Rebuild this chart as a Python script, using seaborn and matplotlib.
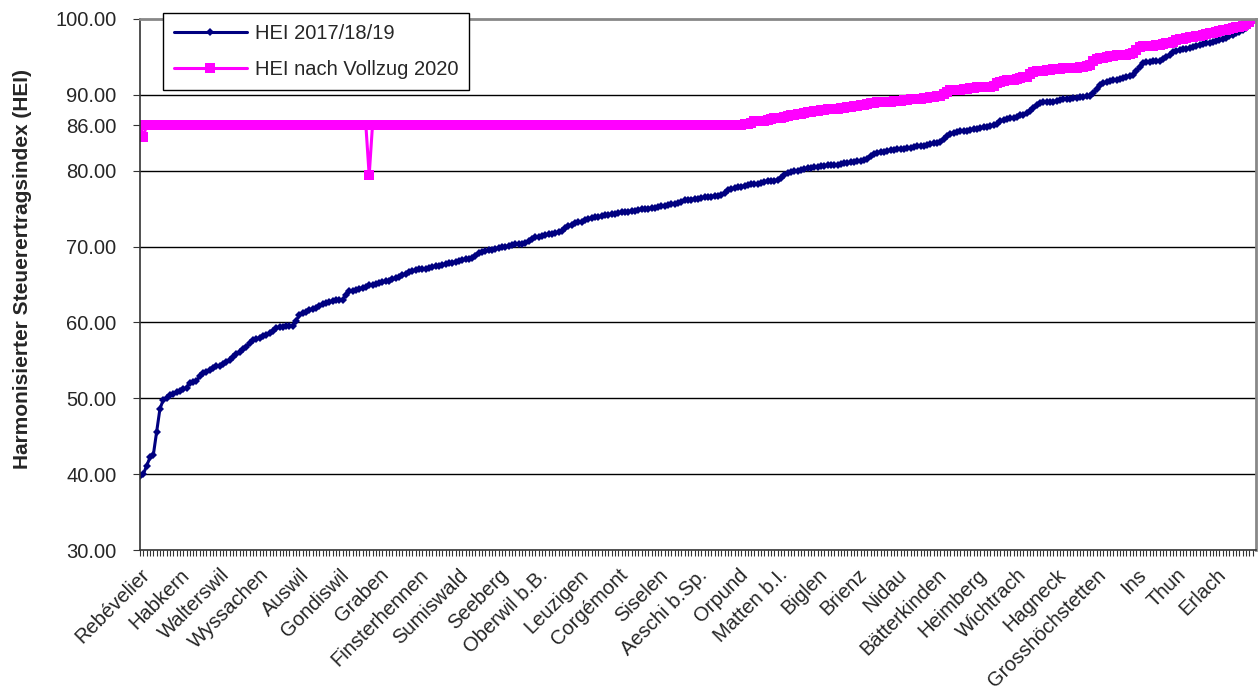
import numpy as np
import pandas as pd
import matplotlib
matplotlib.use("Agg")
import matplotlib.pyplot as plt
import seaborn as sns

# tick labels (every 12th municipality)
labels = ["Rebévelier", "Habkern", "Walterswil", "Wyssachen", "Auswil", "Gondiswil",
          "Graben", "Finsterhennen", "Sumiswald", "Seeberg", "Oberwil b.B.", "Leuzigen",
          "Corgémont", "Siselen", "Aeschi b.Sp.", "Orpund", "Matten b.I.", "Biglen",
          "Brienz", "Nidau", "Bätterkinden", "Heimberg", "Wichtrach", "Hagneck",
          "Grosshöchstetten", "Ins", "Thun", "Erlach"]

hei_2017 = [
    39.7, 40.0, 41.1, 42.2, 42.5, 45.5, 48.6, 49.8, 50.1, 50.4, 50.6, 50.8,
    51.0, 51.2, 51.4, 52.0, 52.1, 52.3, 52.9, 53.3, 53.5, 53.7, 54.0, 54.2,
    54.3, 54.5, 54.8, 55.0, 55.4, 55.8, 56.1, 56.5, 56.8, 57.3, 57.7, 57.8,
    58.0, 58.2, 58.4, 58.6, 58.9, 59.2, 59.4, 59.4, 59.5, 59.5, 59.5, 60.2,
    61.0, 61.2, 61.4, 61.6, 61.8, 61.9, 62.1, 62.4, 62.6, 62.7, 62.8, 62.9,
    62.9, 63.0, 63.6, 64.1, 64.2, 64.3, 64.4, 64.6, 64.7, 64.9, 65.0, 65.1,
    65.2, 65.3, 65.4, 65.5, 65.7, 65.8, 66.0, 66.2, 66.4, 66.6, 66.8, 66.9,
    67.0, 67.0, 67.1, 67.2, 67.3, 67.4, 67.5, 67.6, 67.7, 67.8, 67.9, 68.0,
    68.1, 68.2, 68.3, 68.4, 68.5, 68.8, 69.1, 69.3, 69.4, 69.5, 69.6, 69.7,
    69.8, 69.9, 70.0, 70.1, 70.2, 70.3, 70.3, 70.4, 70.5, 70.7, 71.0, 71.2,
    71.3, 71.4, 71.5, 71.6, 71.7, 71.8, 71.9, 72.1, 72.4, 72.7, 72.9, 73.1,
    73.2, 73.3, 73.5, 73.6, 73.8, 73.9, 73.9, 74.0, 74.1, 74.2, 74.3, 74.3,
    74.4, 74.5, 74.5, 74.6, 74.7, 74.7, 74.8, 74.9, 74.9, 75.0, 75.1, 75.1,
    75.2, 75.3, 75.4, 75.5, 75.6, 75.6, 75.7, 75.9, 76.1, 76.2, 76.2, 76.3,
    76.3, 76.4, 76.5, 76.5, 76.6, 76.7, 76.7, 76.8, 77.1, 77.4, 77.6, 77.7,
    77.8, 77.9, 78.0, 78.1, 78.2, 78.3, 78.3, 78.4, 78.5, 78.6, 78.7, 78.7,
    78.8, 79.1, 79.4, 79.7, 79.8, 79.9, 80.0, 80.1, 80.2, 80.3, 80.4, 80.5,
    80.5, 80.6, 80.6, 80.7, 80.7, 80.8, 80.8, 80.9, 81.0, 81.0, 81.1, 81.2,
    81.3, 81.3, 81.4, 81.6, 81.9, 82.2, 82.4, 82.5, 82.5, 82.6, 82.7, 82.7,
    82.8, 82.8, 82.9, 83.0, 83.0, 83.1, 83.2, 83.3, 83.3, 83.4, 83.5, 83.6,
    83.7, 83.8, 84.2, 84.6, 84.9, 85.0, 85.1, 85.2, 85.2, 85.3, 85.4, 85.5,
    85.5, 85.6, 85.7, 85.8, 85.9, 86.0, 86.2, 86.5, 86.7, 86.8, 86.9, 87.0,
    87.1, 87.3, 87.4, 87.6, 87.9, 88.3, 88.6, 88.9, 89.0, 89.0, 89.1, 89.1,
    89.2, 89.3, 89.4, 89.5, 89.5, 89.6, 89.6, 89.7, 89.7, 89.8, 89.9, 90.3,
    90.8, 91.3, 91.5, 91.7, 91.8, 91.9, 92.0, 92.1, 92.2, 92.4, 92.5, 92.6,
    93.1, 93.7, 94.2, 94.3, 94.3, 94.4, 94.4, 94.4, 94.7, 95.0, 95.3, 95.6,
    95.8, 95.9, 96.0, 96.1, 96.2, 96.3, 96.5, 96.6, 96.7, 96.8, 96.9, 97.0,
    97.1, 97.2, 97.3, 97.5, 97.7, 97.9, 98.1, 98.3, 98.5, 98.8, 99.3, 100.0,
]

hei_2020 = [
    86.0, 84.5, 86.0, 86.0, 86.0, 86.0, 86.0, 86.0, 86.0, 86.0, 86.0, 86.0,
    86.0, 86.0, 86.0, 86.0, 86.0, 86.0, 86.0, 86.0, 86.0, 86.0, 86.0, 86.0,
    86.0, 86.0, 86.0, 86.0, 86.0, 86.0, 86.0, 86.0, 86.0, 86.0, 86.0, 86.0,
    86.0, 86.0, 86.0, 86.0, 86.0, 86.0, 86.0, 86.0, 86.0, 86.0, 86.0, 86.0,
    86.0, 86.0, 86.0, 86.0, 86.0, 86.0, 86.0, 86.0, 86.0, 86.0, 86.0, 86.0,
    86.0, 86.0, 86.0, 86.0, 86.0, 86.0, 86.0, 86.0, 86.0, 79.4, 86.0, 86.0,
    86.0, 86.0, 86.0, 86.0, 86.0, 86.0, 86.0, 86.0, 86.0, 86.0, 86.0, 86.0,
    86.0, 86.0, 86.0, 86.0, 86.0, 86.0, 86.0, 86.0, 86.0, 86.0, 86.0, 86.0,
    86.0, 86.0, 86.0, 86.0, 86.0, 86.0, 86.0, 86.0, 86.0, 86.0, 86.0, 86.0,
    86.0, 86.0, 86.0, 86.0, 86.0, 86.0, 86.0, 86.0, 86.0, 86.0, 86.0, 86.0,
    86.0, 86.0, 86.0, 86.0, 86.0, 86.0, 86.0, 86.0, 86.0, 86.0, 86.0, 86.0,
    86.0, 86.0, 86.0, 86.0, 86.0, 86.0, 86.0, 86.0, 86.0, 86.0, 86.0, 86.0,
    86.0, 86.0, 86.0, 86.0, 86.0, 86.0, 86.0, 86.0, 86.0, 86.0, 86.0, 86.0,
    86.0, 86.0, 86.0, 86.0, 86.0, 86.0, 86.0, 86.0, 86.0, 86.0, 86.0, 86.0,
    86.0, 86.0, 86.0, 86.0, 86.0, 86.0, 86.0, 86.0, 86.0, 86.0, 86.0, 86.0,
    86.0, 86.0, 86.1, 86.2, 86.3, 86.5, 86.5, 86.6, 86.6, 86.7, 86.8, 86.9,
    86.9, 87.0, 87.1, 87.2, 87.3, 87.4, 87.5, 87.5, 87.6, 87.7, 87.8, 87.9,
    87.9, 88.0, 88.0, 88.1, 88.1, 88.2, 88.2, 88.3, 88.3, 88.4, 88.4, 88.5,
    88.5, 88.6, 88.7, 88.8, 88.9, 88.9, 89.0, 89.0, 89.0, 89.1, 89.1, 89.2,
    89.2, 89.2, 89.3, 89.3, 89.4, 89.4, 89.5, 89.5, 89.6, 89.6, 89.7, 89.7,
    89.8, 89.9, 90.1, 90.4, 90.6, 90.6, 90.7, 90.7, 90.8, 90.8, 90.9, 90.9,
    91.0, 91.0, 91.0, 91.1, 91.1, 91.2, 91.5, 91.7, 91.8, 91.9, 92.0, 92.0,
    92.1, 92.2, 92.3, 92.4, 92.7, 93.0, 93.1, 93.2, 93.2, 93.3, 93.3, 93.4,
    93.4, 93.4, 93.5, 93.5, 93.6, 93.6, 93.6, 93.7, 93.7, 93.8, 94.0, 94.4,
    94.7, 94.8, 94.9, 95.0, 95.1, 95.1, 95.2, 95.2, 95.3, 95.3, 95.4, 95.5,
    95.9, 96.3, 96.4, 96.5, 96.5, 96.5, 96.6, 96.6, 96.7, 96.8, 96.9, 97.0,
    97.2, 97.3, 97.4, 97.5, 97.6, 97.6, 97.7, 97.8, 97.9, 98.0, 98.1, 98.2,
    98.3, 98.4, 98.5, 98.6, 98.7, 98.8, 98.9, 99.0, 99.1, 99.3, 99.6, 100.0,
]

y_ticks = [30, 40, 50, 60, 70, 80, 86, 90, 100]
LABEL_STEP = 12

sns.set_theme(style="white")
plt.rcParams['font.family'] = ['Liberation Sans', 'DejaVu Sans']

n = len(hei_2017)
df = pd.DataFrame({"pos": np.arange(n), "HEI 2017/18/19": hei_2017,
                   "HEI nach Vollzug 2020": hei_2020})

fig = plt.figure(figsize=(12.58, 6.98), dpi=100)
ax = fig.add_axes([140 / 1258, 1 - 550 / 698, 1116 / 1258, 531 / 698])

sns.lineplot(data=df, x="pos", y="HEI 2017/18/19", ax=ax, color="#000080",
             marker="D", markersize=4.5, markeredgewidth=0, linewidth=2.2,
             label="HEI 2017/18/19")
sns.lineplot(data=df, x="pos", y="HEI nach Vollzug 2020", ax=ax, color="#FF00FF",
             marker="s", markersize=6.5, markeredgewidth=0, linewidth=2.2,
             label="HEI nach Vollzug 2020")

ax.set_xlim(0, n)
ax.set_ylim(30, 100)
ax.set_yticks(y_ticks)
ax.set_yticklabels([f"{v:.2f}" for v in y_ticks], fontsize=14.5)
ax.set_xticks(np.arange(0, n, LABEL_STEP))
ax.set_xticks(np.arange(n), minor=True)
ax.set_xticklabels(labels, rotation=45, ha="right", rotation_mode="anchor", fontsize=14.5)
ax.tick_params(axis="x", which="both", bottom=True, length=4, width=0.8,
               direction="out", color="#333333", pad=7)
ax.tick_params(axis="y", left=True, length=5, width=0.8, direction="out",
               color="#333333", pad=12)

for v in [40, 50, 60, 70, 80, 90]:
    ax.axhline(v, color="black", linewidth=1, zorder=0)

ax.set_xlabel("")
ax.set_ylabel("Harmonisierter Steuerertragsindex (HEI)", fontsize=15,
              fontweight="bold")
ax.yaxis.set_label_coords(-0.097, 0.53)

for side in ["left", "bottom"]:
    ax.spines[side].set_color("#333333")
    ax.spines[side].set_linewidth(1.2)
for side in ["top", "right"]:
    ax.spines[side].set_color("#888888")
    ax.spines[side].set_linewidth(2)

leg = ax.legend(loc="upper left", bbox_to_anchor=(163 / 1258, 1 - 13 / 698),
                bbox_transform=fig.transFigure, borderaxespad=0, fontsize=14.5,
                frameon=True, fancybox=False, framealpha=1, edgecolor="black",
                handlelength=3.6, labelspacing=0.85, borderpad=0.55,
                handletextpad=0.4)
leg.get_frame().set_linewidth(1)
leg.set_zorder(10)

fig.savefig("out.png", dpi=100)
